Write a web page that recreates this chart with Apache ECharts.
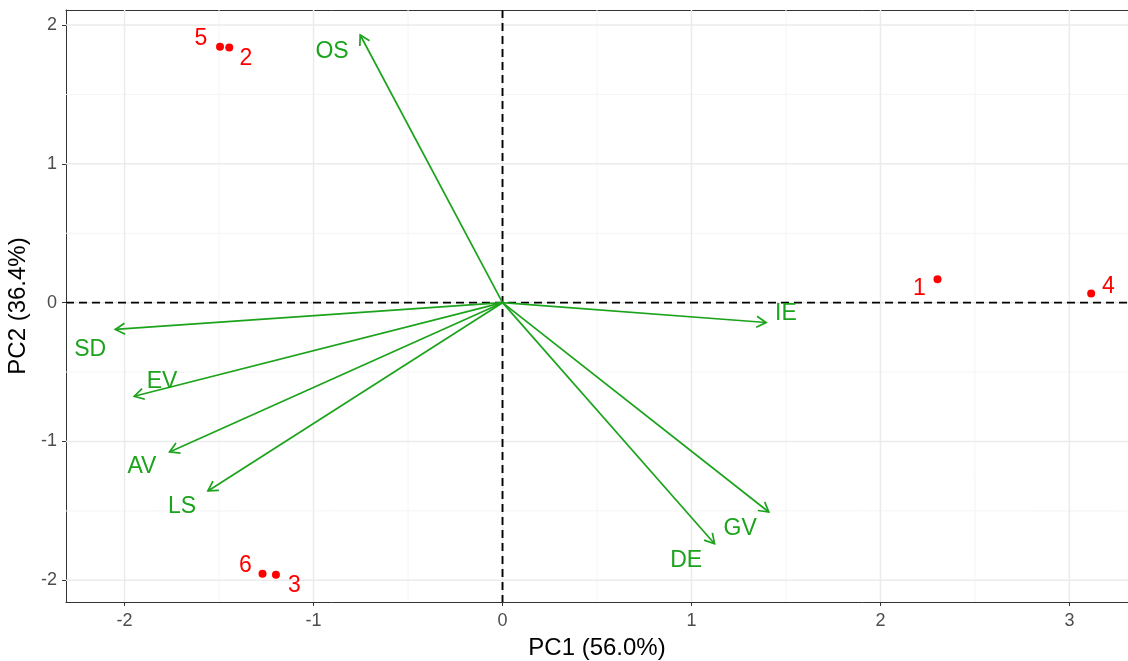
<!DOCTYPE html>
<html>
<head>
<meta charset="utf-8">
<script src="https://cdn.jsdelivr.net/npm/echarts@6/dist/echarts.min.js"></script>
<style>
  html, body { margin: 0; padding: 0; background: #fff; }
  #main { width: 1128px; height: 661px; }
</style>
</head>
<body>
<div id="main"></div>
<script>
// samples (scores)
var sampleNames = ['1', '2', '3', '4', '5', '6'];
var samplePC1 = [2.302, -1.446, -1.199, 3.115, -1.495, -1.270];
var samplePC2 = [0.169, 1.837, -1.959, 0.066, 1.844, -1.952];
var sampleLabelX = [2.206, -1.358, -1.102, 3.206, -1.596, -1.361];
var sampleLabelY = [0.102, 1.760, -2.036, 0.114, 1.904, -1.892];

// variables (loadings)
var varNames = ['OS', 'SD', 'EV', 'AV', 'LS', 'IE', 'GV', 'DE'];
var varPC1 = [-0.753, -2.049, -1.949, -1.762, -1.559, 1.395, 1.409, 1.122];
var varPC2 = [1.928, -0.193, -0.674, -1.075, -1.356, -0.143, -1.508, -1.736];
var varLabelX = [-0.902, -2.182, -1.802, -1.908, -1.696, 1.500, 1.258, 0.972];
var varLabelY = [1.808, -0.342, -0.571, -1.183, -1.467, -0.078, -1.627, -1.856];

// ticks / grid
var xTicks = [-2, -1, 0, 1, 2, 3];
var yTicks = [-2, -1, 0, 1, 2];
var xMinor = [-1.5, -0.5, 0.5, 1.5, 2.5];
var yMinor = [-1.5, -0.5, 0.5, 1.5];

var FONT = '"Liberation Sans", Arial, sans-serif';
var GREEN = '#1ca31c';
var RED = '#ff0000';

var myChart = echarts.init(document.getElementById('main'));

function gridLines(vals, dir, color, width, dash) {
    return {
        type: 'custom',
        silent: true,
        clip: true,
        data: vals.map(function (v) { return [v]; }),
        renderItem: function (params, api) {
            var cs = params.coordSys;
            var v = api.value(0);
            var shape;
            if (dir === 'x') {
                var px = api.coord([v, 0])[0];
                shape = { x1: px, y1: cs.y, x2: px, y2: cs.y + cs.height };
            } else {
                var py = api.coord([0, v])[1];
                shape = { x1: cs.x, y1: py, x2: cs.x + cs.width, y2: py };
            }
            return {
                type: 'line',
                shape: shape,
                style: { stroke: color, lineWidth: width, lineDash: dash || null }
            };
        }
    };
}

function textSeries(xs, ys, names, color) {
    return {
        type: 'custom',
        silent: true,
        clip: false,
        data: xs.map(function (x, i) { return [x, ys[i], i]; }),
        renderItem: function (params, api) {
            var p = api.coord([api.value(0), api.value(1)]);
            return {
                type: 'text',
                x: p[0],
                y: p[1],
                style: {
                    text: names[api.value(2)],
                    fill: color,
                    font: '23px ' + FONT,
                    align: 'center',
                    verticalAlign: 'middle'
                }
            };
        }
    };
}

var option = {
    animation: false,
    backgroundColor: '#fff',
    grid: { left: 66, right: 0, top: 10, bottom: 59, outerBoundsMode: 'none' },
    xAxis: [{
        type: 'value',
        min: -2.31,
        max: 3.31,
        position: 'bottom',
        axisLine: { show: true, onZero: false, lineStyle: { color: '#333', width: 1 } },
        axisTick: { show: true, length: 4, customValues: xTicks, lineStyle: { color: '#333' } },
        axisLabel: { customValues: xTicks, color: '#4d4d4d', fontSize: 18, margin: 10, fontFamily: FONT },
        splitLine: { show: false },
        name: 'PC1 (56.0%)',
        nameLocation: 'middle',
        nameGap: 34,
        nameTextStyle: { color: '#000', fontSize: 24, fontFamily: FONT }
    }, {
        type: 'value',
        min: -2.31,
        max: 3.31,
        position: 'top',
        axisLine: { show: true, onZero: false, lineStyle: { color: '#333', width: 1 } },
        axisTick: { show: false },
        axisLabel: { show: false },
        splitLine: { show: false }
    }],
    yAxis: {
        type: 'value',
        min: -2.156,
        max: 2.108,
        axisLine: { show: true, onZero: false, lineStyle: { color: '#333', width: 1 } },
        axisTick: { show: true, length: 4, customValues: yTicks, lineStyle: { color: '#333' } },
        axisLabel: { customValues: yTicks, color: '#4d4d4d', fontSize: 18, margin: 9, fontFamily: FONT },
        splitLine: { show: false },
        name: 'PC2 (36.4%)',
        nameLocation: 'middle',
        nameGap: 32,
        nameTextStyle: { color: '#000', fontSize: 24, fontFamily: FONT }
    },
    series: [
        gridLines(xMinor, 'x', '#f4f4f4', 1),
        gridLines(yMinor, 'y', '#f4f4f4', 1),
        gridLines(xTicks, 'x', '#ebebeb', 1.5),
        gridLines(yTicks, 'y', '#ebebeb', 1.5),
        gridLines([0], 'x', '#000', 1.9, [8, 5]),
        gridLines([0], 'y', '#000', 1.9, [8, 5]),
        {
            type: 'custom',
            silent: true,
            clip: false,
            data: varPC1.map(function (x, i) { return [x, varPC2[i]]; }),
            renderItem: function (params, api) {
                var o = api.coord([0, 0]);
                var t = api.coord([api.value(0), api.value(1)]);
                var ang = Math.atan2(t[1] - o[1], t[0] - o[0]);
                var L = 11, a = Math.PI / 6;
                var p1 = [t[0] - L * Math.cos(ang - a), t[1] - L * Math.sin(ang - a)];
                var p2 = [t[0] - L * Math.cos(ang + a), t[1] - L * Math.sin(ang + a)];
                return {
                    type: 'group',
                    children: [{
                        type: 'line',
                        shape: { x1: o[0], y1: o[1], x2: t[0], y2: t[1] },
                        style: { stroke: GREEN, lineWidth: 1.7 }
                    }, {
                        type: 'polyline',
                        shape: { points: [p1, t, p2] },
                        style: { stroke: GREEN, lineWidth: 1.7, fill: null }
                    }]
                };
            }
        },
        {
            type: 'scatter',
            symbolSize: 8,
            itemStyle: { color: RED, opacity: 1 },
            data: samplePC1.map(function (x, i) { return [x, samplePC2[i]]; })
        },
        textSeries(sampleLabelX, sampleLabelY, sampleNames, RED),
        textSeries(varLabelX, varLabelY, varNames, GREEN)
    ]
};
myChart.setOption(option);
</script>
</body>
</html>
